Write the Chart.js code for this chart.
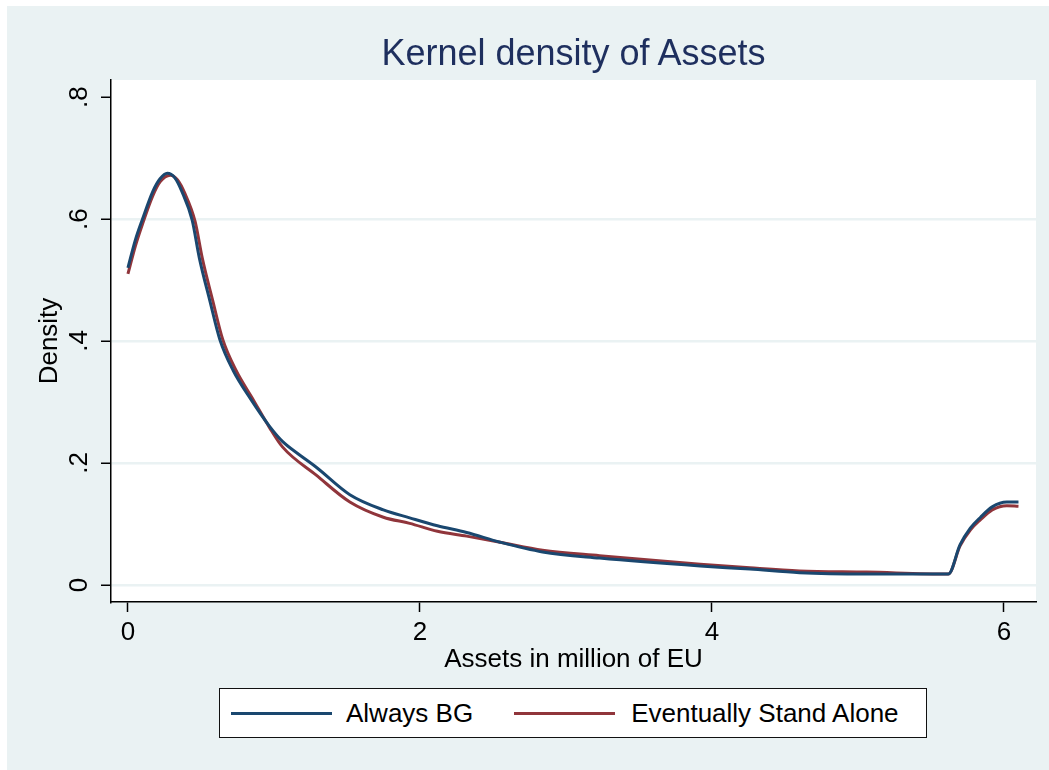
<!DOCTYPE html>
<html>
<head>
<meta charset="utf-8">
<title>Kernel density of Assets</title>
<script src="https://cdn.jsdelivr.net/npm/chart.js@4.4.1/dist/chart.umd.min.js"></script>
<style>
    html, body { margin: 0; padding: 0; background: #fff; overflow: hidden; }
    #wrap { position: relative; width: 1049px; height: 770px; }
    #densityChart { position: absolute; left: 0; top: 0; }
    #title {
        position: absolute; left: 111px; width: 925px; top: 35px;
        text-align: center; font: 36px/36px "Liberation Sans", Arial, sans-serif; color: #1e2f5e;
    }
    #legend {
        position: absolute; left: 219px; top: 688px; width: 708px; height: 50px;
        box-sizing: border-box; border: 1.5px solid #111; background: #fff;
        display: flex; align-items: center;
        font: 26px "Liberation Sans", Arial, sans-serif; color: #000;
    }
    #legend .swatch { display: inline-block; width: 101px; height: 3px; }
</style>
</head>
<body>
<div id="wrap">
    <canvas id="densityChart" width="1049" height="770"></canvas>
    <div id="title">Kernel density of Assets</div>
    <div id="legend">
        <span class="swatch" style="margin-left:11px;background:#1a476f"></span>
        <span style="margin-left:14px">Always BG</span>
        <span class="swatch" style="margin-left:41px;background:#90353b"></span>
        <span style="margin-left:16px">Eventually Stand Alone</span>
    </div>
</div>
<script>
// data
const bgAssets = [0.00, 0.05, 0.10, 0.17, 0.22, 0.27, 0.32, 0.37, 0.44, 0.49, 0.56, 0.63, 0.72, 0.84, 0.97, 1.06, 1.16, 1.29, 1.52, 1.75, 1.93, 2.12, 2.32, 2.55, 2.84, 3.23, 3.92, 4.26, 4.60, 5.06, 5.62, 5.70, 5.77, 5.84, 5.92, 6.02, 6.10];
const bgDensity = [0.520, 0.565, 0.600, 0.645, 0.666, 0.675, 0.668, 0.645, 0.598, 0.535, 0.467, 0.402, 0.352, 0.305, 0.260, 0.235, 0.216, 0.193, 0.148, 0.123, 0.110, 0.097, 0.086, 0.070, 0.054, 0.044, 0.031, 0.026, 0.020, 0.018, 0.018, 0.066, 0.093, 0.111, 0.128, 0.136, 0.136];

const saAssets = [0.00, 0.05, 0.10, 0.17, 0.22, 0.29, 0.34, 0.39, 0.46, 0.51, 0.58, 0.65, 0.74, 0.86, 0.97, 1.06, 1.29, 1.52, 1.75, 1.93, 2.12, 2.32, 2.55, 2.84, 3.23, 3.92, 4.26, 4.60, 5.06, 5.62, 5.70, 5.77, 5.84, 5.92, 6.02, 6.10];
const saDensity = [0.510, 0.555, 0.592, 0.638, 0.661, 0.672, 0.664, 0.642, 0.596, 0.535, 0.467, 0.402, 0.352, 0.303, 0.258, 0.226, 0.180, 0.136, 0.111, 0.101, 0.088, 0.080, 0.070, 0.057, 0.048, 0.034, 0.028, 0.023, 0.021, 0.018, 0.064, 0.090, 0.107, 0.123, 0.130, 0.129];

const xTicks = [0, 2, 4, 6];
const yTicks = [0, 0.2, 0.4, 0.6, 0.8];
const yTickLabels = ['0', '.2', '.4', '.6', '.8'];

const seriesNames = ['Always BG', 'Eventually Stand Alone'];

const toPoints = (xs, ys) => xs.map((x, i) => ({ x: x, y: ys[i] }));

// stata style backgrounds: bluish gray outer, white plot region
const backgroundPlugin = {
    id: 'backgrounds',
    beforeDraw(chart) {
        const ctx = chart.ctx;
        const area = chart.chartArea;
        ctx.save();
        ctx.fillStyle = '#ffffff';
        ctx.fillRect(0, 0, chart.width, chart.height);
        ctx.fillStyle = '#eaf2f3';
        ctx.fillRect(7, 6, chart.width - 7, chart.height - 6);
        ctx.fillStyle = '#ffffff';
        ctx.fillRect(area.left, area.top, area.right - area.left, area.bottom - area.top);
        ctx.restore();
    }
};

document.addEventListener('DOMContentLoaded', function () {
    const textFont = { family: "'Liberation Sans', Arial, sans-serif", size: 26 };

    const densityCtx = document.getElementById('densityChart').getContext('2d');
    const densityChart = new Chart(densityCtx, {
        type: 'line',
        data: {
            datasets: [{
                label: seriesNames[0],
                data: toPoints(bgAssets, bgDensity),
                borderColor: '#1a476f',
                borderWidth: 3,
                pointRadius: 0,
                cubicInterpolationMode: 'monotone',
                fill: false
            }, {
                label: seriesNames[1],
                data: toPoints(saAssets, saDensity),
                borderColor: '#90353b',
                borderWidth: 3,
                pointRadius: 0,
                cubicInterpolationMode: 'monotone',
                fill: false
            }]
        },
        options: {
            responsive: false,
            animation: false,
            devicePixelRatio: 1,
            layout: {
                padding: { left: 0, right: 13, top: 80, bottom: 78 }
            },
            plugins: {
                legend: { display: false },
                title: { display: false },
                tooltip: { enabled: false }
            },
            scales: {
                x: {
                    type: 'linear',
                    min: -0.116,
                    max: 6.22,
                    afterBuildTicks: (scale) => {
                        scale.ticks = xTicks.map(v => ({ value: v }));
                    },
                    afterFit: (scale) => { scale.height = 90; },
                    grid: {
                        drawOnChartArea: false,
                        drawTicks: true,
                        tickLength: 10,
                        tickColor: '#000',
                        tickWidth: 1.5
                    },
                    border: { display: true, color: '#000', width: 1.5 },
                    ticks: {
                        color: '#000',
                        font: textFont,
                        padding: 5,
                        maxRotation: 0,
                        minRotation: 0
                    },
                    title: {
                        display: true,
                        text: 'Assets in million of EU',
                        color: '#000',
                        font: textFont,
                        padding: { top: 0, bottom: 17 }
                    }
                },
                y: {
                    type: 'linear',
                    min: -0.028,
                    max: 0.828,
                    afterBuildTicks: (scale) => {
                        scale.ticks = yTicks.map(v => ({ value: v }));
                    },
                    afterFit: (scale) => { scale.width = 111; },
                    grid: {
                        color: (c) => (c.tick && c.tick.value === 0.8) ? 'rgba(0,0,0,0)' : '#eaf2f3',
                        lineWidth: 2.5,
                        drawTicks: true,
                        tickLength: 10,
                        tickColor: '#000',
                        tickWidth: 1.5
                    },
                    border: { display: true, color: '#000', width: 1.5 },
                    ticks: {
                        color: '#000',
                        font: textFont,
                        padding: 10,
                        minRotation: 90,
                        maxRotation: 90,
                        crossAlign: 'center',
                        callback: (value) => {
                            const i = yTicks.indexOf(value);
                            return i >= 0 ? yTickLabels[i] : '';
                        }
                    },
                    title: {
                        display: true,
                        text: 'Density',
                        color: '#000',
                        font: textFont,
                        padding: { top: 34, bottom: 0 }
                    }
                }
            }
        },
        plugins: [backgroundPlugin]
    });

    window.densityChart = densityChart;
});
</script>
</body>
</html>
